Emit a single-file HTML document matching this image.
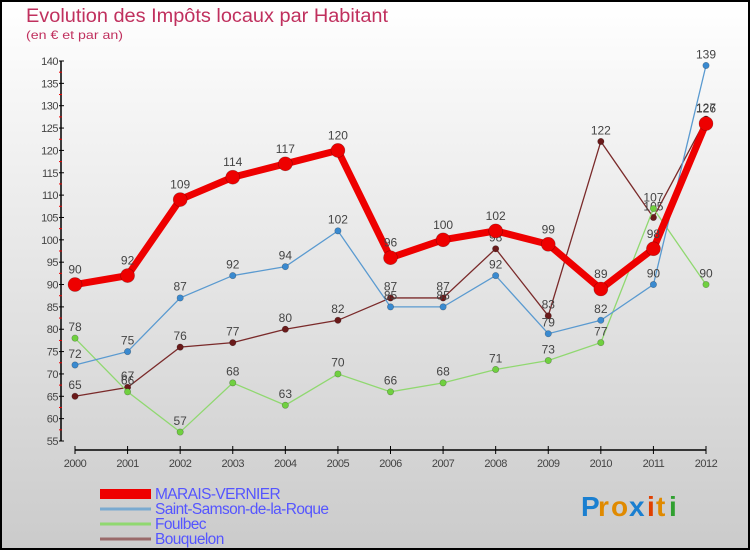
<!DOCTYPE html>
<html><head><meta charset="utf-8"><style>
html,body{margin:0;padding:0}
body{width:750px;height:550px;overflow:hidden;font-family:"Liberation Sans",sans-serif}
</style></head><body>
<svg id="chart" width="750" height="550" xmlns="http://www.w3.org/2000/svg">
<defs><linearGradient id="bg" x1="0" y1="0" x2="0" y2="1"><stop offset="0" stop-color="#ffffff"/><stop offset="1" stop-color="#cbcbcb"/></linearGradient></defs>
<rect x="1" y="1" width="748" height="548" fill="url(#bg)" stroke="#000" stroke-width="2"/>
<text x="26" y="22" font-size="19" fill="#c0305e" textLength="362" lengthAdjust="spacingAndGlyphs">Evolution des Impôts locaux par Habitant</text>
<text x="26" y="39" font-size="12" fill="#c0305e" textLength="97" lengthAdjust="spacingAndGlyphs">(en € et par an)</text>
<g id="axes"></g>
<g id="series"></g>
<g id="legend"></g>
<g font-size="28" font-weight="bold">
<text x="581" y="516" fill="#1a7fd0">P</text><text x="598" y="516" fill="#e08a00">r</text><text x="611" y="516" fill="#e08a00">o</text><text x="629" y="516" fill="#1a7fd0">x</text><text x="647" y="516" fill="#e04000">i</text><text x="656" y="516" fill="#e08a00">t</text><text x="669" y="516" fill="#30a030">i</text>
</g>
</svg>
<script>
const years=[2000,2001,2002,2003,2004,2005,2006,2007,2008,2009,2010,2011,2012];
const yTicks=[55,60,65,70,75,80,85,90,95,100,105,110,115,120,125,130,135,140];
const seriesNames=["MARAIS-VERNIER","Saint-Samson-de-la-Roque","Foulbec","Bouquelon"];
const marais=[90,92,109,114,117,120,96,100,102,99,89,98,126];
const samson=[72,75,87,92,94,102,85,85,92,79,82,90,139];
const foulbec=[78,66,57,68,63,70,66,68,71,73,77,107,90];
const bouquelon=[65,67,76,77,80,82,87,87,98,83,122,105,127];
const NS="http://www.w3.org/2000/svg";
const x=i=>75+i*(706-75)/(years.length-1);
const y=v=>441-(v-55)*(380/85);
function mk(tag,attrs,parent,text){const e=document.createElementNS(NS,tag);for(const k in attrs)e.setAttribute(k,attrs[k]);if(text!==undefined)e.textContent=text;parent.appendChild(e);return e;}
const axes=document.getElementById('axes');
let e=mk('line',{x1:61,y1:y(140),x2:61,y2:y(55),stroke:'#000','stroke-width':1.5},axes);


yTicks.forEach(t=>{
 mk('line',{x1:59,x2:64,y1:y(t),y2:y(t),stroke:'#000'},axes);
 if(t<140) mk('line',{x1:59,x2:62,y1:y(t+2.5),y2:y(t+2.5),stroke:'#e00'},axes);
 const l=mk('text',{x:58,y:y(t)+4,'font-size':11,'text-anchor':'end',fill:'#444','letter-spacing':'-0.5'},axes,t);
 
 
});
e=mk('line',{x1:75,y1:450,x2:706,y2:450,stroke:'#000','stroke-width':1.5},axes);


years.forEach((yr,i)=>{
 mk('line',{x1:x(i),x2:x(i),y1:446,y2:454,stroke:'#000'},axes);
 const l=mk('text',{x:x(i),y:467,'font-size':11,'text-anchor':'middle',fill:'#444','letter-spacing':'-0.5'},axes,yr);
 
 
});
const sg=document.getElementById('series');
const defs=[
 {d:bouquelon,c:'#7a2a2a',dot:'#6a1a1a',w:1.3,r:3.2,name:'bouquelon'},
 {d:foulbec,c:'#90d870',dot:'#70d040',w:1.3,r:3.2,name:'foulbec'},
 {d:samson,c:'#5a9ad0',dot:'#3a8ad0',w:1.3,r:3.2,name:'saint-samson'},
 {d:marais,c:'#ee0000',dot:'#ee0000',w:7,r:7,name:'marais-vernier'}];
defs.forEach(s=>{
 const g=mk('g',{},sg);
 
 
 const p=mk('polyline',{points:s.d.map((v,i)=>x(i)+','+y(v)).join(' '),fill:'none',stroke:s.c,'stroke-width':s.w},g);
 
 
 s.d.forEach((v,i)=>{
  const c=mk('circle',{cx:x(i),cy:y(v),r:s.r,fill:s.dot,stroke:'rgba(0,0,0,0.3)','stroke-width':0.6},g);
  
  
  const t=mk('text',{x:x(i),y:y(v)-(s.r+4),'font-size':12,'text-anchor':'middle',fill:'#444'},g,v);
  
  
 });
});
const lg=document.getElementById('legend');
const lcol=['#ee0000','#7aaad0','#90d870','#9a6a6a'];
const lw=[10,3,3,3];
seriesNames.forEach((n,i)=>{
 const yy=494+i*15;
 const ln=mk('line',{x1:100,x2:151,y1:yy,y2:yy,stroke:lcol[i],'stroke-width':lw[i]},lg);
 
 
 const t=mk('text',{x:155,y:yy+5,'font-size':15.5,fill:'#5555ff','letter-spacing':'-0.6'},lg,n);
 
 
});
</script>
</body></html>
